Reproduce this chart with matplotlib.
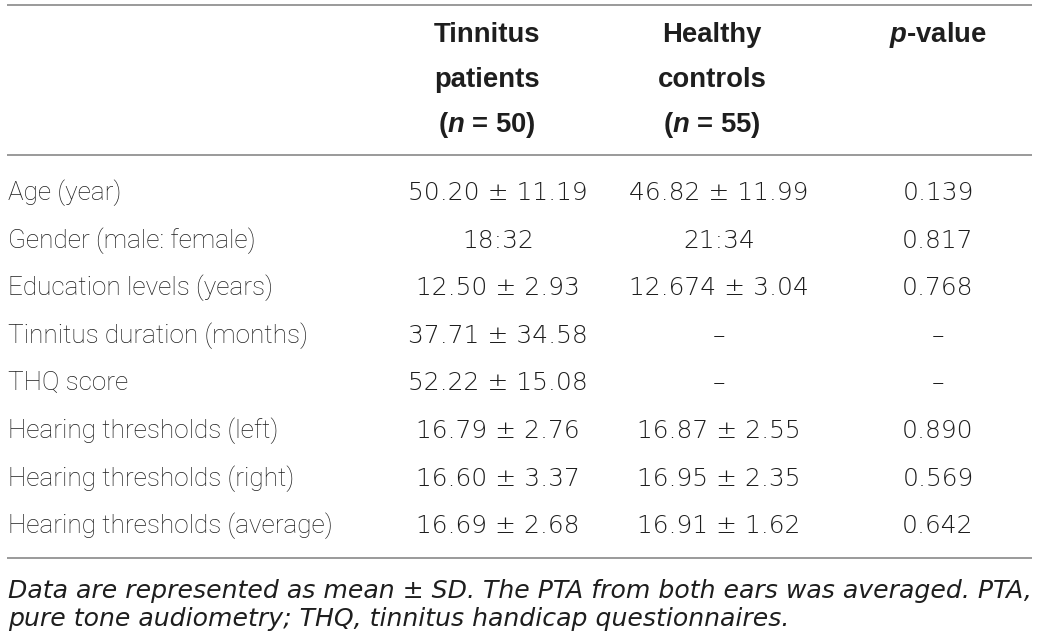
import matplotlib
matplotlib.use("Agg")
import matplotlib.pyplot as plt

row_labels = ["Age (year)", "Gender (male: female)", "Education levels (years)",
              "Tinnitus duration (months)", "THQ score",
              "Hearing thresholds (left)", "Hearing thresholds (right)",
              "Hearing thresholds (average)"]
tinnitus_vals = ["50.20 \u00b1 11.19", "18:32", "12.50 \u00b1 2.93", "37.71 \u00b1 34.58",
                 "52.22 \u00b1 15.08", "16.79 \u00b1 2.76", "16.60 \u00b1 3.37", "16.69 \u00b1 2.68"]
control_vals = ["46.82 \u00b1 11.99", "21:34", "12.674 \u00b1 3.04", "\u2013",
                "\u2013", "16.87 \u00b1 2.55", "16.95 \u00b1 2.35", "16.91 \u00b1 1.62"]
p_values = ["0.139", "0.817", "0.768", "\u2013", "\u2013", "0.890", "0.569", "0.642"]
header_tinnitus = ["Tinnitus", "patients", "($n$ = 50)"]
header_controls = ["Healthy", "controls", "($n$ = 55)"]
header_p = ["$p$-value"]
footnote = ["Data are represented as mean \u00b1 SD. The PTA from both ears was averaged. PTA,",
            "pure tone audiometry; THQ, tinnitus handicap questionnaires."]

plt.rcParams['mathtext.fontset'] = 'custom'
plt.rcParams['mathtext.it'] = 'Liberation Sans:italic:bold'
plt.rcParams['mathtext.rm'] = 'Liberation Sans:bold'

W, H = 1041, 644
fig = plt.figure(figsize=(W / 100, H / 100), dpi=100)
ax = fig.add_axes([0, 0, 1, 1])
ax.set_xlim(0, W)
ax.set_ylim(H, 0)
ax.axis("off")

txt_color = "#1e1e1e"
line_color = "#9a9a9a"
label_font = dict(family="Roboto", fontweight="light", fontsize=18.8, color=txt_color)
value_font = dict(family="DejaVu Sans", fontweight="light", fontsize=18.0, color=txt_color)
head_font = dict(family="Liberation Sans", fontweight="bold", fontsize=19.8, color=txt_color)

# rules
for y in (5, 155, 558):
    ax.plot([7, 1032], [y, y], color=line_color, lw=1.4, solid_capstyle="butt")

head_x = [487, 712, 938]
data_x = [498, 719, 938]
head_base = [42, 87, 132]
for x, hdr in zip(head_x, [header_tinnitus, header_controls, header_p]):
    for y, s in zip(head_base, hdr):
        ax.text(x, y, s, ha="center", va="baseline", **head_font)

row_b0, row_db = 200, 47.6
for i, lab in enumerate(row_labels):
    y = row_b0 + i * row_db
    ax.text(8, y, lab, ha="left", va="baseline", **label_font)
    ax.text(data_x[0], y, tinnitus_vals[i], ha="center", va="baseline", **value_font)
    ax.text(data_x[1], y, control_vals[i], ha="center", va="baseline", **value_font)
    ax.text(data_x[2], y, p_values[i], ha="center", va="baseline", **value_font)

for i, s in enumerate(footnote):
    ax.text(8, 598 + i * 28, s, ha="left", va="baseline", style="italic",
            family="DejaVu Sans", fontweight="light", fontsize=18.1, color=txt_color)

fig.savefig("out.png", dpi=100, facecolor="white")
